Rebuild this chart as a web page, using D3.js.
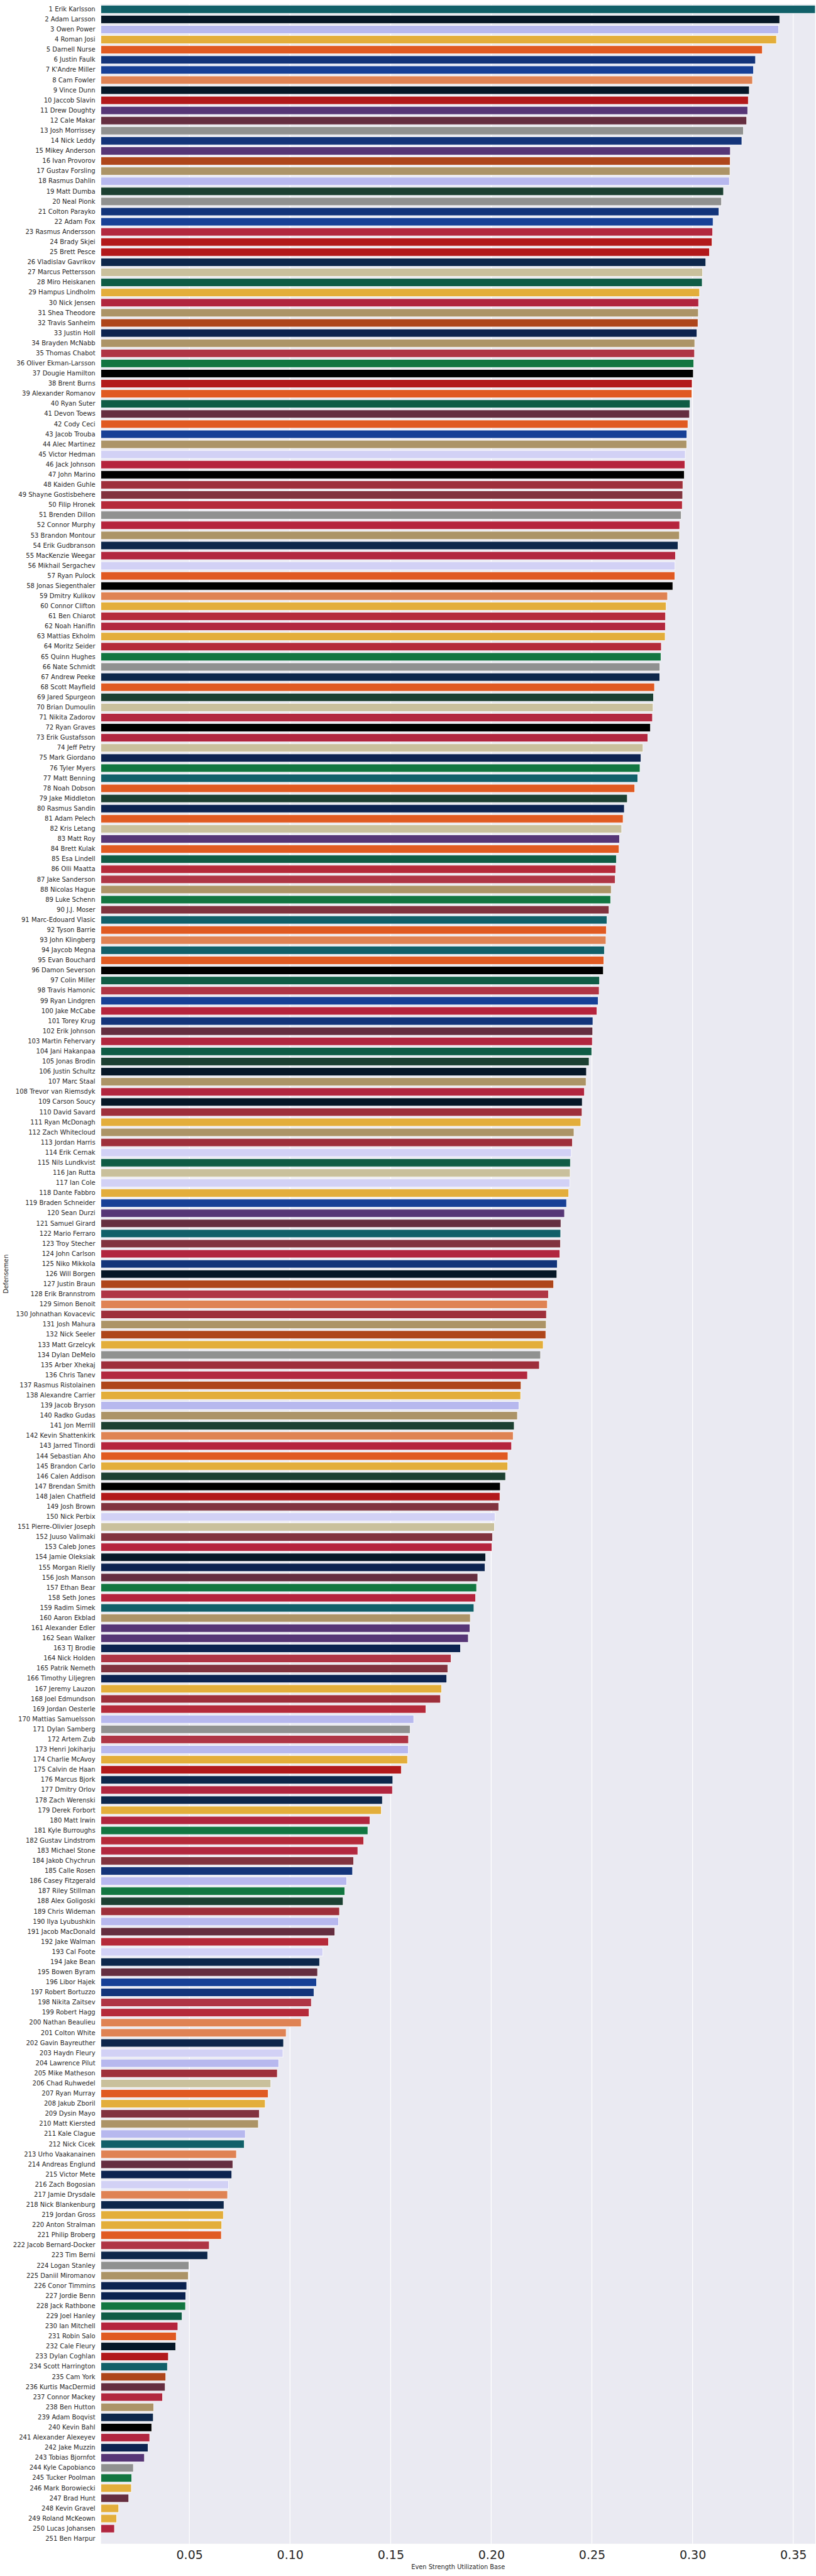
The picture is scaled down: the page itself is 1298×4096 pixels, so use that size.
<!DOCTYPE html>
<html><head><meta charset="utf-8">
<script src="https://cdn.jsdelivr.net/npm/d3@7"></script>
<style>
html,body{margin:0;padding:0;background:#fff;}
svg{display:block;font-family:"DejaVu Sans",sans-serif;}
</style></head>
<body>
<svg id="chart" width="1298" height="4096"></svg>
<script>
const players = ["Erik Karlsson","Adam Larsson","Owen Power","Roman Josi","Darnell Nurse","Justin Faulk","K'Andre Miller","Cam Fowler","Vince Dunn","Jaccob Slavin",
"Drew Doughty","Cale Makar","Josh Morrissey","Nick Leddy","Mikey Anderson","Ivan Provorov","Gustav Forsling","Rasmus Dahlin","Matt Dumba","Neal Pionk",
"Colton Parayko","Adam Fox","Rasmus Andersson","Brady Skjei","Brett Pesce","Vladislav Gavrikov","Marcus Pettersson","Miro Heiskanen","Hampus Lindholm","Nick Jensen",
"Shea Theodore","Travis Sanheim","Justin Holl","Brayden McNabb","Thomas Chabot","Oliver Ekman-Larsson","Dougie Hamilton","Brent Burns","Alexander Romanov","Ryan Suter",
"Devon Toews","Cody Ceci","Jacob Trouba","Alec Martinez","Victor Hedman","Jack Johnson","John Marino","Kaiden Guhle","Shayne Gostisbehere","Filip Hronek",
"Brenden Dillon","Connor Murphy","Brandon Montour","Erik Gudbranson","MacKenzie Weegar","Mikhail Sergachev","Ryan Pulock","Jonas Siegenthaler","Dmitry Kulikov","Connor Clifton",
"Ben Chiarot","Noah Hanifin","Mattias Ekholm","Moritz Seider","Quinn Hughes","Nate Schmidt","Andrew Peeke","Scott Mayfield","Jared Spurgeon","Brian Dumoulin",
"Nikita Zadorov","Ryan Graves","Erik Gustafsson","Jeff Petry","Mark Giordano","Tyler Myers","Matt Benning","Noah Dobson","Jake Middleton","Rasmus Sandin",
"Adam Pelech","Kris Letang","Matt Roy","Brett Kulak","Esa Lindell","Olli Maatta","Jake Sanderson","Nicolas Hague","Luke Schenn","J.J. Moser",
"Marc-Edouard Vlasic","Tyson Barrie","John Klingberg","Jaycob Megna","Evan Bouchard","Damon Severson","Colin Miller","Travis Hamonic","Ryan Lindgren","Jake McCabe",
"Torey Krug","Erik Johnson","Martin Fehervary","Jani Hakanpaa","Jonas Brodin","Justin Schultz","Marc Staal","Trevor van Riemsdyk","Carson Soucy","David Savard",
"Ryan McDonagh","Zach Whitecloud","Jordan Harris","Erik Cernak","Nils Lundkvist","Jan Rutta","Ian Cole","Dante Fabbro","Braden Schneider","Sean Durzi",
"Samuel Girard","Mario Ferraro","Troy Stecher","John Carlson","Niko Mikkola","Will Borgen","Justin Braun","Erik Brannstrom","Simon Benoit","Johnathan Kovacevic",
"Josh Mahura","Nick Seeler","Matt Grzelcyk","Dylan DeMelo","Arber Xhekaj","Chris Tanev","Rasmus Ristolainen","Alexandre Carrier","Jacob Bryson","Radko Gudas",
"Jon Merrill","Kevin Shattenkirk","Jarred Tinordi","Sebastian Aho","Brandon Carlo","Calen Addison","Brendan Smith","Jalen Chatfield","Josh Brown","Nick Perbix",
"Pierre-Olivier Joseph","Juuso Valimaki","Caleb Jones","Jamie Oleksiak","Morgan Rielly","Josh Manson","Ethan Bear","Seth Jones","Radim Simek","Aaron Ekblad",
"Alexander Edler","Sean Walker","TJ Brodie","Nick Holden","Patrik Nemeth","Timothy Liljegren","Jeremy Lauzon","Joel Edmundson","Jordan Oesterle","Mattias Samuelsson",
"Dylan Samberg","Artem Zub","Henri Jokiharju","Charlie McAvoy","Calvin de Haan","Marcus Bjork","Dmitry Orlov","Zach Werenski","Derek Forbort","Matt Irwin",
"Kyle Burroughs","Gustav Lindstrom","Michael Stone","Jakob Chychrun","Calle Rosen","Casey Fitzgerald","Riley Stillman","Alex Goligoski","Chris Wideman","Ilya Lyubushkin",
"Jacob MacDonald","Jake Walman","Cal Foote","Jake Bean","Bowen Byram","Libor Hajek","Robert Bortuzzo","Nikita Zaitsev","Robert Hagg","Nathan Beaulieu",
"Colton White","Gavin Bayreuther","Haydn Fleury","Lawrence Pilut","Mike Matheson","Chad Ruhwedel","Ryan Murray","Jakub Zboril","Dysin Mayo","Matt Kiersted",
"Kale Clague","Nick Cicek","Urho Vaakanainen","Andreas Englund","Victor Mete","Zach Bogosian","Jamie Drysdale","Nick Blankenburg","Jordan Gross","Anton Stralman",
"Philip Broberg","Jacob Bernard-Docker","Tim Berni","Logan Stanley","Daniil Miromanov","Conor Timmins","Jordie Benn","Jack Rathbone","Joel Hanley","Ian Mitchell",
"Robin Salo","Cale Fleury","Dylan Coghlan","Scott Harrington","Cam York","Kurtis MacDermid","Connor Mackey","Ben Hutton","Adam Boqvist","Kevin Bahl",
"Alexander Alexeyev","Jake Muzzin","Tobias Bjornfot","Kyle Capobianco","Tucker Poolman","Mark Borowiecki","Brad Hunt","Kevin Gravel","Roland McKeown","Lucas Johansen",
"Ben Harpur"];

const esUtilBase = [0.3610,0.3433,0.3428,0.3417,0.3347,0.3313,0.3303,0.3298,0.3282,0.3277,
0.3274,0.3269,0.3253,0.3245,0.3188,0.3187,0.3186,0.3183,0.3154,0.3144,
0.3131,0.3102,0.3100,0.3097,0.3084,0.3066,0.3050,0.3048,0.3035,0.3030,
0.3029,0.3027,0.3022,0.3011,0.3010,0.3006,0.3004,0.2998,0.2997,0.2988,
0.2985,0.2977,0.2972,0.2971,0.2964,0.2962,0.2959,0.2952,0.2951,0.2949,
0.2944,0.2936,0.2935,0.2928,0.2915,0.2913,0.2912,0.2902,0.2876,0.2869,
0.2866,0.2865,0.2864,0.2845,0.2843,0.2838,0.2837,0.2811,0.2806,0.2804,
0.2801,0.2791,0.2778,0.2754,0.2744,0.2739,0.2728,0.2713,0.2676,0.2661,
0.2655,0.2648,0.2637,0.2635,0.2622,0.2619,0.2616,0.2596,0.2593,0.2585,
0.2575,0.2572,0.2570,0.2562,0.2559,0.2557,0.2538,0.2536,0.2531,0.2525,
0.2505,0.2504,0.2502,0.2499,0.2486,0.2473,0.2471,0.2463,0.2452,0.2451,
0.2445,0.2411,0.2403,0.2398,0.2393,0.2392,0.2390,0.2385,0.2374,0.2364,
0.2346,0.2345,0.2344,0.2341,0.2328,0.2326,0.2310,0.2284,0.2279,0.2274,
0.2273,0.2271,0.2258,0.2245,0.2239,0.2180,0.2148,0.2146,0.2138,0.2130,
0.2114,0.2109,0.2101,0.2083,0.2082,0.2071,0.2045,0.2043,0.2037,0.2019,
0.2016,0.2006,0.2003,0.1972,0.1969,0.1933,0.1927,0.1922,0.1914,0.1896,
0.1894,0.1886,0.1847,0.1800,0.1784,0.1779,0.1753,0.1748,0.1675,0.1615,
0.1597,0.1589,0.1588,0.1584,0.1553,0.1511,0.1509,0.1459,0.1454,0.1397,
0.1387,0.1366,0.1337,0.1316,0.1311,0.1282,0.1272,0.1264,0.1246,0.1241,
0.1223,0.1191,0.1163,0.1147,0.1137,0.1132,0.1119,0.1106,0.1095,0.1056,
0.0981,0.0968,0.0965,0.0944,0.0937,0.0905,0.0892,0.0877,0.0848,0.0843,
0.0778,0.0773,0.0734,0.0716,0.0711,0.0695,0.0690,0.0672,0.0669,0.0661,
0.0659,0.0599,0.0591,0.0498,0.0495,0.0487,0.0482,0.0481,0.0464,0.0443,
0.0435,0.0432,0.0396,0.0391,0.0383,0.0380,0.0367,0.0323,0.0321,0.0313,
0.0303,0.0295,0.0277,0.0222,0.0214,0.0212,0.0199,0.0149,0.0139,0.0128,
0.0061];

const teams = ["SJS","SEA","BUF","NSH","EDM","STL","NYR","ANA","SEA","CAR",
"LAK","COL","WPG","STL","LAK","PHI","FLA","BUF","MIN","WPG",
"STL","NYR","CGY","CAR","CAR","CBJ","PIT","DAL","BOS","WSH",
"VGK","PHI","TOR","VGK","OTT","VAN","NJD","CAR","NYI","DAL",
"COL","EDM","NYR","VGK","TBL","CHI","NJD","MTL","ARI","DET",
"WPG","CHI","FLA","CBJ","CGY","TBL","NYI","NJD","ANA","BOS",
"DET","CGY","NSH","DET","VAN","WPG","CBJ","NYI","MIN","PIT",
"CGY","NJD","WSH","PIT","TOR","VAN","SJS","NYI","MIN","TOR",
"NYI","PIT","LAK","EDM","DAL","DET","OTT","VGK","VAN","ARI",
"SJS","EDM","ANA","SJS","EDM","NJD","DAL","OTT","NYR","CHI",
"STL","COL","WSH","DAL","MIN","SEA","FLA","WSH","SEA","MTL",
"NSH","VGK","MTL","TBL","DAL","PIT","TBL","NSH","NYR","LAK",
"COL","SJS","ARI","WSH","STL","SEA","PHI","OTT","ANA","MTL",
"FLA","PHI","BOS","WPG","MTL","CGY","PHI","NSH","BUF","FLA",
"MIN","ANA","CHI","NYI","BOS","MIN","NJD","CAR","ARI","TBL",
"PIT","ARI","CHI","SEA","TOR","COL","VAN","CHI","SJS","FLA",
"LAK","LAK","TOR","OTT","ARI","TOR","NSH","MTL","DET","BUF",
"WPG","OTT","BUF","BOS","CAR","CBJ","WSH","CBJ","BOS","WSH",
"VAN","DET","CGY","ARI","STL","BUF","VAN","MIN","MTL","BUF",
"COL","DET","TBL","CBJ","COL","NYR","STL","OTT","DET","ANA",
"ANA","CBJ","TBL","BUF","MTL","PIT","NYI","BOS","ARI","FLA",
"BUF","SJS","ANA","COL","TOR","TBL","ANA","CBJ","NSH","BOS",
"EDM","OTT","CBJ","WPG","VGK","TOR","TOR","VAN","DAL","CHI",
"NYI","SEA","CAR","SJS","PHI","COL","CGY","VGK","CBJ","NJD",
"WSH","TOR","LAK","WPG","VAN","NSH","COL","NSH","NSH","WSH",
"NSH"];

const teamCodes = ["SJS","SEA","BUF","TBL","NSH","BOS","EDM","NYI","STL","NYR","ANA","CAR","LAK","COL","WPG","PHI","FLA","VGK","MIN","CGY","CBJ","PIT","DAL","WSH","TOR","OTT","VAN","NJD","MTL","ARI","DET","CHI"];
const teamPalette = ["#116069","#061727","#B7B8EE","#D2D1F5","#E3AE3B","#E3AE3B","#E05A22","#E05A22","#13347A","#174096","#DF8354","#B2191B","#563676","#652E40","#909190","#AE461B","#AC9467","#AC9467","#1C4032","#B2283F","#0D274B","#C9C09C","#0F5C45","#B1263F","#0C2350","#AF3545","#127641","#000000","#9E2F3B","#81333F","#B52A3A","#B5243D"];

const xTicks = [0.05,0.10,0.15,0.20,0.25,0.30,0.35];
const xLabel = "Even Strength Utilization Base";
const yLabel = "Defensemen";

const data = players.map((p,i)=>({label:(i+1)+" "+p, value:esUtilBase[i], team:teams[i]}));

const svg = d3.select("#chart");
const m = {left:160.6, right:1296.9, top:6.7, bottom:4044.8};

const x = d3.scaleLinear().domain(d3.extent(esUtilBase)).range([m.left, m.right]);
const y = d3.scaleBand().domain(data.map(d=>d.label)).range([m.top, m.bottom]).paddingInner(0.2).paddingOuter(0.1);
const color = d3.scaleOrdinal(teamCodes, teamPalette);

svg.append("rect").attr("x",m.left).attr("y",m.top).attr("width",m.right-m.left).attr("height",m.bottom-m.top).attr("fill","#EAEAF2");

svg.append("g").selectAll("line").data(xTicks).join("line")
  .attr("x1",d=>x(d)).attr("x2",d=>x(d)).attr("y1",m.top).attr("y2",m.bottom)
  .attr("stroke","#fff").attr("stroke-width",1.2);

svg.append("g").selectAll("rect").data(data).join("rect")
  .attr("x",x.range()[0]).attr("y",d=>y(d.label))
  .attr("width",d=>Math.max(0,x(d.value)-x.range()[0])).attr("height",y.bandwidth())
  .attr("fill",d=>color(d.team)).attr("stroke","#fff").attr("stroke-width",0.8);

const yAxis = svg.append("g").attr("transform",`translate(${m.left},0)`)
  .call(d3.axisLeft(y).tickSize(0).tickPadding(9));
yAxis.select(".domain").remove();
yAxis.selectAll("text").attr("font-size",10).attr("fill","#262626").attr("font-family","DejaVu Sans");

const xAxis = svg.append("g").attr("transform",`translate(0,${m.bottom})`)
  .call(d3.axisBottom(x).tickValues(xTicks).tickFormat(d3.format(".2f")).tickSize(0).tickPadding(11));
xAxis.select(".domain").remove();
xAxis.selectAll("text").attr("font-size",19).attr("fill","#262626").attr("font-family","DejaVu Sans");

svg.append("text").attr("x",(m.left+m.right)/2).attr("y",4085)
  .attr("text-anchor","middle").attr("font-size",9.8).attr("fill","#262626").text(xLabel);

svg.append("text").attr("transform",`translate(13.3,${(m.top+m.bottom)/2}) rotate(-90)`)
  .attr("text-anchor","middle").attr("font-size",9.8).attr("fill","#262626").text(yLabel);
</script>
</body></html>
